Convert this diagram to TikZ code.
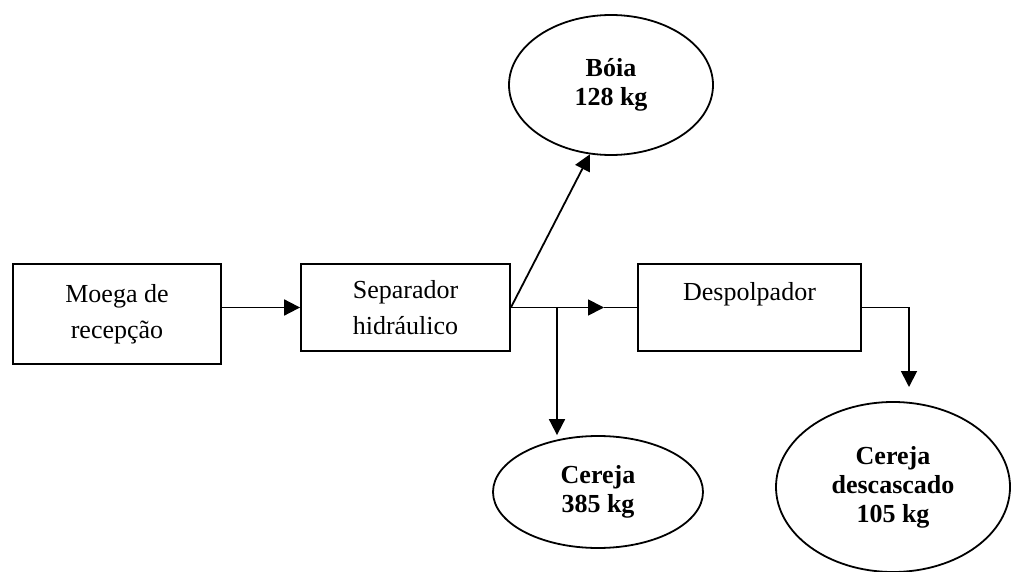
\documentclass[tikz,border=0pt]{standalone}
\usepackage{fontspec}
\setmainfont{Liberation Serif}
\usetikzlibrary{arrows.meta,shapes.geometric}
\begin{document}
\begin{tikzpicture}[x=0.5pt,y=-0.5pt,line width=0.9pt,
        caixa/.style={draw,rectangle,align=center,inner sep=0pt,font=\fontsize{13}{18}\selectfont},
        saida/.style={draw,ellipse,align=center,inner sep=0pt,font=\fontsize{13}{14.5}\selectfont\bfseries},
        seta/.style={-{Triangle[length=8pt,width=8pt]}}]
    \useasboundingbox (0,0) rectangle (1011,572);
    \node[caixa,minimum width=104pt,minimum height=50pt] (moega) at (117,314) {Moega de\\recepção};
    \node[caixa,minimum width=104.5pt,minimum height=43.5pt] (separador) at (405.5,307.5) {Separador\\hidráulico};
    \node[caixa,minimum width=111.5pt,minimum height=43.5pt,text height=9pt,text depth=16.5pt] (despolpador) at (749.5,307.5) {Despolpador};
    \node[saida,minimum width=102pt,minimum height=70pt] (boia) at (611,85) {Bóia\\128 kg};
    \node[saida,minimum width=105pt,minimum height=56pt] (cereja) at (598,492) {Cereja\\385 kg};
    \node[saida,minimum width=117pt,minimum height=85pt] (descascado) at (893,487) {Cereja\\descascado\\105 kg};
    \coordinate (ramo) at (557,307.5);
    \coordinate (meio) at (604,307.5);
    \coordinate (ponta) at (909,387);
    \draw[seta] (moega.east |- separador.west) -- (separador.west);
    \draw[seta] (separador.east) -- (meio);
    \draw (meio) -- (despolpador.west);
    \draw[seta] (separador.east) -- (boia.253);
    \draw[seta] (ramo) -- (ramo |- cereja.north);
    \draw[seta] (despolpador.east) -| (ponta);
\end{tikzpicture}
\end{document}
